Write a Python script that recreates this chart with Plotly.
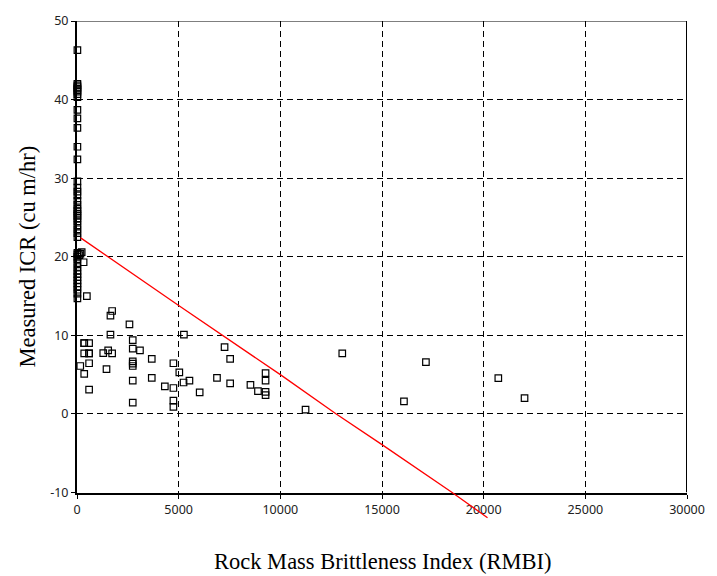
import plotly.graph_objects as go

# Measured data: Rock Mass Brittleness Index vs Measured ICR
rmbi = [
    20, 20, 20, 20, 20, 20, 20, 20, 20, 20, 20, 20, 20, 20, 20,
    20, 20, 20, 20, 20, 20, 20, 20, 20, 20, 20, 20, 20, 20, 20,
    20, 20, 20, 20, 20, 20, 20, 20, 20, 20, 20, 20, 20, 20, 20,
    120, 170, 230, 325, 485,
    355, 595, 1727, 1645, 2580, 1645, 5258, 2742, 355, 595,
    2742, 1533, 3097, 1290, 355, 595, 1727, 7257, 3677, 7532,
    4741, 2742, 2742, 2742, 595, 160, 1451, 5032, 355, 9274,
    9274, 2742, 3677, 6885, 5240, 5530, 7532, 8530, 4320, 4741,
    595, 6033, 8900, 9274, 9274, 2742, 4741, 4741, 11240,
    13046, 17160, 20720, 16080, 22010,
]
icr = [
    46.3, 42.0, 41.8, 41.6, 41.4, 41.2, 41.0, 40.7, 40.3, 38.7, 37.6, 36.4, 34.0, 32.4, 29.6,
    28.8, 28.3, 27.8, 27.1, 26.6, 26.1, 25.8, 25.5, 25.2, 24.9, 24.5, 24.0, 23.5, 23.0, 22.5,
    20.5, 20.3, 20.0, 19.7, 19.2, 18.7, 18.2, 17.8, 17.4, 17.0, 16.6, 16.2, 15.8, 15.3, 14.7,
    20.2, 20.4, 20.6, 19.3, 15.0,
    9.0, 9.0, 13.1, 12.5, 11.4, 10.1, 10.1, 9.4, 7.7, 7.7,
    8.3, 8.1, 8.1, 7.75, 9.0, 7.7, 7.7, 8.5, 7.0, 7.0,
    6.45, 6.7, 6.4, 6.1, 6.45, 6.1, 5.7, 5.3, 5.1, 5.2,
    4.25, 4.25, 4.6, 4.6, 4.0, 4.25, 3.9, 3.7, 3.5, 3.3,
    3.1, 2.75, 2.9, 2.8, 2.4, 1.45, 1.7, 0.9, 0.55,
    7.7, 6.6, 4.55, 1.6, 2.0,
]

# Regression line
fit_x = [180, 5000, 10000, 12750, 15000, 18450, 20190]
fit_y = [22.4, 13.8, 5.0, 0.0, -3.9, -10.0, -13.2]

x_ticks = [0, 5000, 10000, 15000, 20000, 25000, 30000]
y_ticks = [-10, 0, 10, 20, 30, 40, 50]

x_title = "Rock Mass Brittleness Index (RMBI)"
y_title = "Measured ICR (cu m/hr)"

# layout geometry (pixels)
W, H = 717, 576
L, R, T = 77, 20, 12
PLOT_BOTTOM = 492          # pixel of y=-10
EXTRA = 30                 # extra room below for the red line
B = H - PLOT_BOTTOM - EXTRA
area_h = H - T - B
main_lo = EXTRA / area_h
px_per_unit = (PLOT_BOTTOM - T) / 60.0
y2_min = -10 - EXTRA / px_per_unit

tick_font = dict(family="Noto Sans", size=12.5, color="#222")
title_font = dict(family="Liberation Serif", size=22.5, color="black")

fig = go.Figure()
fig.add_trace(go.Scatter(
    x=rmbi, y=icr, mode="markers", xaxis="x", yaxis="y",
    marker=dict(symbol="square-open", size=6.5, color="black",
                line=dict(width=1.2, color="black")),
    showlegend=False, cliponaxis=False,
))
fig.add_trace(go.Scatter(
    x=fit_x, y=fit_y, mode="lines", xaxis="x2", yaxis="y2",
    line=dict(color="red", width=1.3), showlegend=False,
))

fig.update_layout(
    width=W, height=H,
    margin=dict(l=L, r=R, t=T, b=B),
    plot_bgcolor="rgba(0,0,0,0)", paper_bgcolor="white",
    xaxis=dict(
        range=[0, 30000], tickvals=x_ticks, ticktext=[str(v) for v in x_ticks],
        domain=[0, 1],
        showgrid=True, gridcolor="black", griddash="6px,4px", gridwidth=1,
        showline=True, linecolor="black", linewidth=2,
        ticks="outside", ticklen=4, tickwidth=1.2, tickcolor="black",
        tickfont=tick_font, zeroline=False, anchor="y",
    ),
    yaxis=dict(
        range=[-10, 50], tickvals=y_ticks, ticktext=[str(v) for v in y_ticks],
        domain=[main_lo, 1],
        showgrid=True, gridcolor="black", griddash="6px,4px", gridwidth=1,
        showline=True, linecolor="black", linewidth=2,
        ticks="outside", ticklen=4, tickwidth=1.2, tickcolor="black",
        tickfont=tick_font, zeroline=False, anchor="x",
    ),
    xaxis2=dict(range=[0, 30000], domain=[0, 1], visible=False, anchor="y2",
                showgrid=False),
    yaxis2=dict(range=[y2_min, 50], domain=[0, 1], visible=False, anchor="x2",
                showgrid=False),
    shapes=[
        dict(type="line", xref="x", yref="y", x0=0, x1=30000, y0=50, y1=50,
             line=dict(color="black", width=1)),
        dict(type="line", xref="x", yref="y", x0=30000, x1=30000, y0=-10, y1=50,
             line=dict(color="black", width=2)),
    ],
    annotations=[
        dict(text=x_title, xref="paper", yref="paper", x=0.5,
             y=-(562 - (H - B)) / area_h, xanchor="center", yanchor="middle",
             showarrow=False, font=title_font),
        dict(text=y_title, xref="paper", yref="paper", x=(27 - L) / (W - L - R),
             y=((H - B) - 252) / area_h, xanchor="center", yanchor="middle",
             textangle=-90, showarrow=False, font=title_font),
    ],
)

fig.write_html("out.html")
